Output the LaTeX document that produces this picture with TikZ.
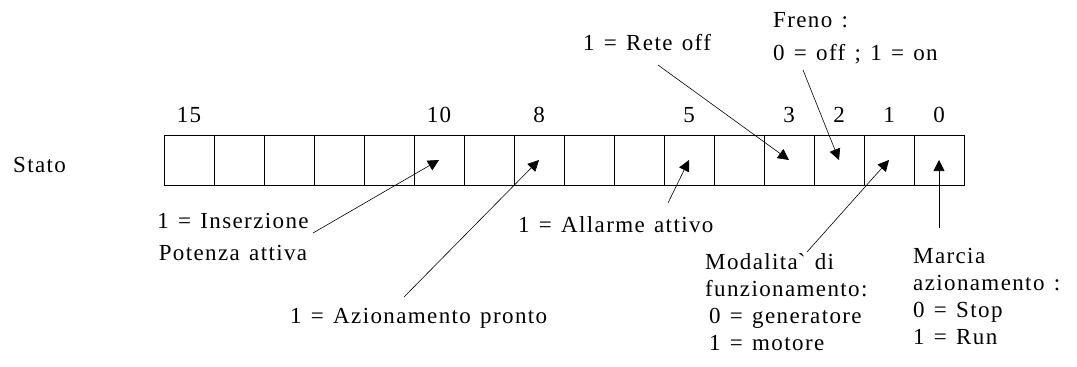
\documentclass[tikz,border=0pt]{standalone}
\usepackage{fontspec}
\setmainfont{Liberation Serif}[LetterSpace=6, WordSpace=1.3]
\usepackage{tikz}
\usetikzlibrary{arrows.meta, positioning}

\begin{document}
\begin{tikzpicture}[%
    x=1pt, y=-1pt,                          % pixel grid of the page
    >={Triangle[length=11pt,width=11pt]},   % filled arrow heads
    font=\fontsize{23}{27}\selectfont,      % text size and line spacing
    bitbox/.style={draw, minimum size=50pt, inner sep=0pt, line width=0.8pt},
    bitnum/.style={inner sep=0pt},
    note/.style={inner sep=0pt, align=left},
    ptr/.style={line width=0.6pt}
]
    \useasboundingbox (0,0) rectangle (1077,367);

    % ==========================================
    % 1. Register (bit 15 ... bit 0)
    % ==========================================
    \node[note, anchor=base west] (stato) at (13,172) {Stato};
    \foreach \i in {0,...,15}
        \node[bitbox] (b\i) at ({189+(15-\i)*50}, 160) {};

    % bit numbers over the boxes
    \foreach \i in {15,10,8,5,3,2,1,0}
        \node[bitnum, above=12pt of b\i] (n\i) {\i};

    % ==========================================
    % 2. Texts
    % ==========================================
    \node[note, align=center, anchor=north] (ins) at (233,213)
        {1 = Inserzione\\[5pt]Potenza attiva};
    \node[note, anchor=base west] (az) at (290,323) {1 = Azionamento pronto};
    \node[note, anchor=base west] (all) at (518,232) {1 = Allarme attivo};
    \node[note, anchor=base west] (rete) at (583,50) {1 = Rete off};
    \node[note, anchor=north west] (freno) at (773,12)
        {Freno :\\[6pt]0 = off ; 1 = on};
    \node[note, anchor=north west] (mod) at (705,253)
        {Modalita\textasciigrave{} di\\funzionamento:\\\hspace{4pt}0 = generatore\\\hspace{4pt}1 = motore};
    \node[note, anchor=north west] (mar) at (913,248)
        {Marcia\\azionamento :\\0 = Stop\\1 = Run};

    % free ends of the pointers
    \coordinate (tIns)   at (313,233);
    \coordinate (tAz)    at (404,297);
    \coordinate (tAll)   at (668,203);
    \coordinate (tRete)  at (658,65);
    \coordinate (tFreno) at (803,70);
    \coordinate (tMod)   at (807,252);
    \coordinate (tMar)   at (939,228);

    % ==========================================
    % 3. Pointers into the bits
    % ==========================================
    \path[->, ptr]
        (tIns)   edge (b10.center)
        (tAz)    edge (b8.center)
        (tAll)   edge (b5.center)
        (tRete)  edge (b3.center)
        (tFreno) edge (b2.center)
        (tMod)   edge (b1.center)
        (tMar)   edge (b0.center);

\end{tikzpicture}
\end{document}
